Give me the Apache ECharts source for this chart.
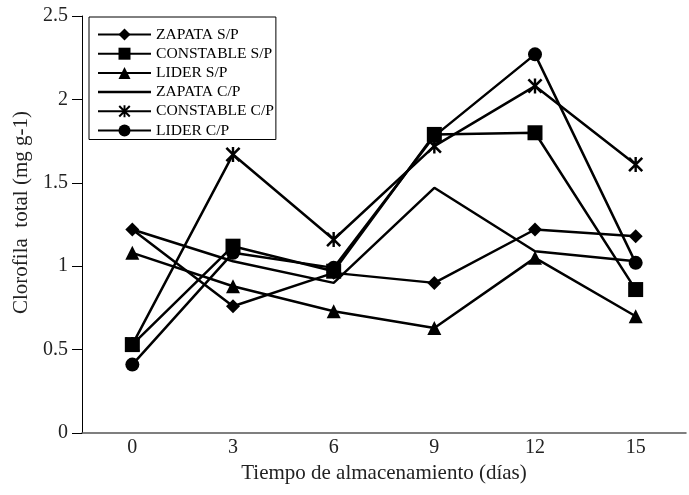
<!DOCTYPE html>
<html>
<head>
<meta charset="utf-8">
<script src="https://cdn.jsdelivr.net/npm/echarts@6/dist/echarts.min.js"></script>
<style>
  html, body { margin: 0; padding: 0; background: #fff; }
  #chart { width: 689px; height: 495px; }
</style>
</head>
<body>
<div id="chart"></div>
<script>
// Storage days (category axis)
const days = ['0', '3', '6', '9', '12', '15'];

// Total chlorophyll (mg g-1) per cultivar and packaging condition
const zapataSP    = [1.22, 0.76, 0.96, 0.90, 1.22, 1.18];
const constableSP = [0.53, 1.12, 0.97, 1.79, 1.80, 0.86];
const liderSP     = [1.08, 0.88, 0.73, 0.63, 1.05, 0.70];
const zapataCP    = [1.22, 1.03, 0.90, 1.47, 1.09, 1.03];
const constableCP = [0.53, 1.67, 1.16, 1.72, 2.08, 1.61];
const liderCP     = [0.41, 1.08, 0.99, 1.78, 2.27, 1.02];

const yTicks = { min: 0, max: 2.5, interval: 0.5 };

// Asterisk marker: an X crossed by a vertical bar
const asterisk = 'path://M0,2.4L2.4,0L20,17.6L17.6,20Z M17.6,0L20,2.4L2.4,20L0,17.6Z M8.4,0L11.6,0L11.6,20L8.4,20Z';
// Plain line used as the legend key of the series drawn without markers
const plainLine = 'path://M0,0L53,0L53,2.5L0,2.5Z';

const FONT = 'Liberation Serif';
const INK = '#000';

function lineSeries(name, data, symbol, size) {
  return {
    name: name,
    type: 'line',
    data: data,
    symbol: symbol,
    symbolSize: size,
    showSymbol: symbol !== 'none',
    lineStyle: { color: INK, width: 2.5 },
    itemStyle: { color: INK, borderColor: INK, borderWidth: 0 },
    emphasis: { disabled: true },
    animation: false
  };
}

const chart = echarts.init(document.getElementById('chart'), null, { renderer: 'canvas' });
chart.setOption({
  backgroundColor: '#fff',
  animation: false,
  grid: { left: 82, right: 3, top: 16, bottom: 62, containLabel: false },
  legend: {
    orient: 'vertical',
    left: 89,
    top: 17,
    padding: [9.5, 2, 1, 8],
    itemWidth: 53,
    itemHeight: 15,
    itemGap: 3.2,
    symbolKeepAspect: true,
    borderColor: INK,
    borderWidth: 1,
    textStyle: { fontFamily: FONT, fontSize: 15.6, color: INK, lineHeight: 14 },
    data: [
      'ZAPATA S/P',
      'CONSTABLE S/P',
      'LIDER S/P',
      { name: 'ZAPATA C/P', icon: plainLine, itemStyle: { color: INK } },
      'CONSTABLE C/P',
      'LIDER C/P'
    ]
  },
  xAxis: {
    type: 'category',
    data: days,
    boundaryGap: true,
    name: 'Tiempo de almacenamiento (días)',
    nameLocation: 'middle',
    nameGap: 21,
    nameTextStyle: { fontFamily: FONT, fontSize: 21, color: '#222' },
    axisLine: { lineStyle: { color: '#555', width: 1.5 } },
    axisTick: { show: false },
    axisLabel: { fontFamily: FONT, fontSize: 20, color: '#222', margin: 5 },
    splitLine: { show: false }
  },
  yAxis: {
    type: 'value',
    min: yTicks.min,
    max: yTicks.max,
    interval: yTicks.interval,
    name: 'Clorofila  total (mg g-1)',
    nameLocation: 'middle',
    nameGap: 43,
    nameTextStyle: { fontFamily: FONT, fontSize: 21, color: '#222', padding: [0, 0, 0, 24] },
    axisLine: { show: true, lineStyle: { color: INK, width: 1 } },
    axisTick: { show: true, length: 10, inside: false, lineStyle: { color: INK } },
    axisLabel: { fontFamily: FONT, fontSize: 20, color: '#222', margin: 14 },
    splitLine: { show: false }
  },
  series: [
    lineSeries('ZAPATA S/P', zapataSP, 'diamond', 14),
    lineSeries('CONSTABLE S/P', constableSP, 'rect', 15),
    lineSeries('LIDER S/P', liderSP, 'triangle', 14),
    lineSeries('ZAPATA C/P', zapataCP, 'none', 0),
    lineSeries('CONSTABLE C/P', constableCP, asterisk, 15),
    lineSeries('LIDER C/P', liderCP, 'circle', 14)
  ]
});
</script>
</body>
</html>
